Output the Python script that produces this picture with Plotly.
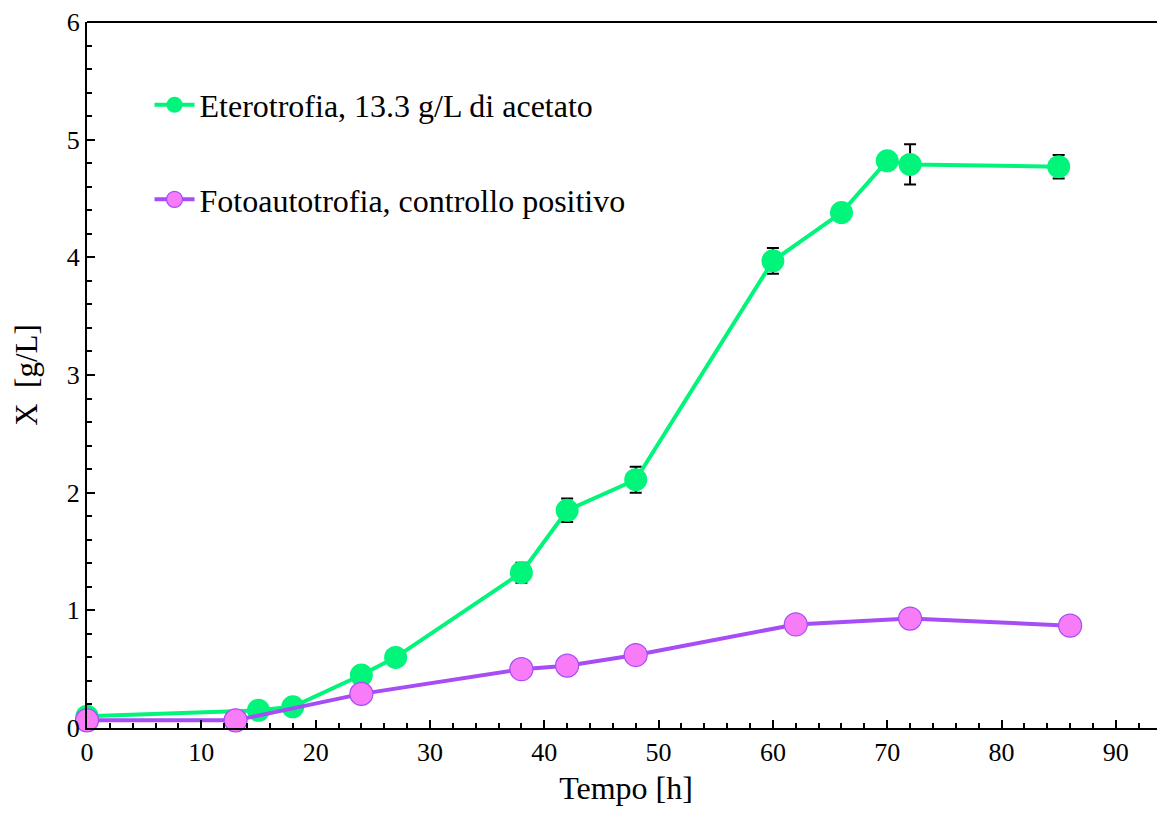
import plotly.graph_objects as go

t_etero = [0, 15, 18, 24, 27, 38, 42, 48, 60, 66, 70, 72, 85]
x_etero = [0.10, 0.15, 0.18, 0.45, 0.60, 1.32, 1.85, 2.11, 3.97, 4.38, 4.82, 4.79, 4.77]
err_etero = [0, 0, 0, 0, 0, 0.085, 0.10, 0.11, 0.11, 0, 0, 0.17, 0.10]

t_foto = [0, 13, 24, 38, 42, 48, 62, 72, 86]
x_foto = [0.065, 0.065, 0.29, 0.50, 0.53, 0.62, 0.88, 0.93, 0.87]

name_etero = "Eterotrofia, 13.3 g/L di acetato"
name_foto = "Fotoautotrofia, controllo positivo"

FONT = "Liberation Serif, Times New Roman, serif"

fig = go.Figure()
fig.add_trace(go.Scatter(
    x=t_etero, y=x_etero, mode="lines+markers", name=name_etero,
    legendgroup="a",
    line=dict(color="#00F57A", width=4),
    marker=dict(color="#00F57A", size=23, line=dict(width=0)),
    error_y=dict(type="data", array=err_etero, color="black", thickness=2, width=6, visible=True),
    cliponaxis=False,
))
fig.add_trace(go.Scatter(
    x=t_foto, y=x_foto, mode="lines+markers", name=name_foto,
    legendgroup="b",
    line=dict(color="#A64DF5", width=4),
    marker=dict(color="#F87CF8", size=23, line=dict(width=1.2, color="#A64DF5")),
    cliponaxis=False,
))

fig.update_layout(
    width=1165, height=814,
    paper_bgcolor="white", plot_bgcolor="white",
    margin=dict(l=79, r=8, t=14, b=94, autoexpand=False),
    font=dict(family=FONT, size=26, color="black"),
    legend=dict(x=0.058, y=0.9215, xanchor="left", yanchor="top",
                font=dict(size=32, family=FONT), tracegroupgap=50,
                bgcolor="rgba(0,0,0,0)", itemwidth=40),
    showlegend=True,
)
fig.update_xaxes(
    range=[0, 94.3], tick0=0, dtick=10, showgrid=False, zeroline=False,
    showline=True, linecolor="black", linewidth=2, mirror=False, automargin=False,
    ticks="inside", ticklen=8, tickwidth=2, tickcolor="black",
    minor=dict(dtick=2, ticks="inside", ticklen=5, tickwidth=1.5, tickcolor="black"),
    title=dict(text="Tempo [h]", font=dict(size=32, family=FONT), standoff=10),
    tickfont=dict(size=26, family=FONT),
)
fig.update_yaxes(
    range=[0, 6], tick0=0, dtick=1, showgrid=False, zeroline=False,
    showline=True, linecolor="black", linewidth=2, mirror=False, automargin=False,
    ticks="inside", ticklen=8, tickwidth=2, tickcolor="black",
    minor=dict(dtick=0.2, ticks="inside", ticklen=5, tickwidth=1.5, tickcolor="black"),
    title=dict(text="X  [g/L]", font=dict(size=31, family=FONT), standoff=20),
    tickfont=dict(size=26, family=FONT),
)
fig.add_shape(type="line", xref="paper", yref="paper", x0=0, x1=1, y0=1, y1=1,
              line=dict(color="black", width=2))

fig.write_html("out.html")
